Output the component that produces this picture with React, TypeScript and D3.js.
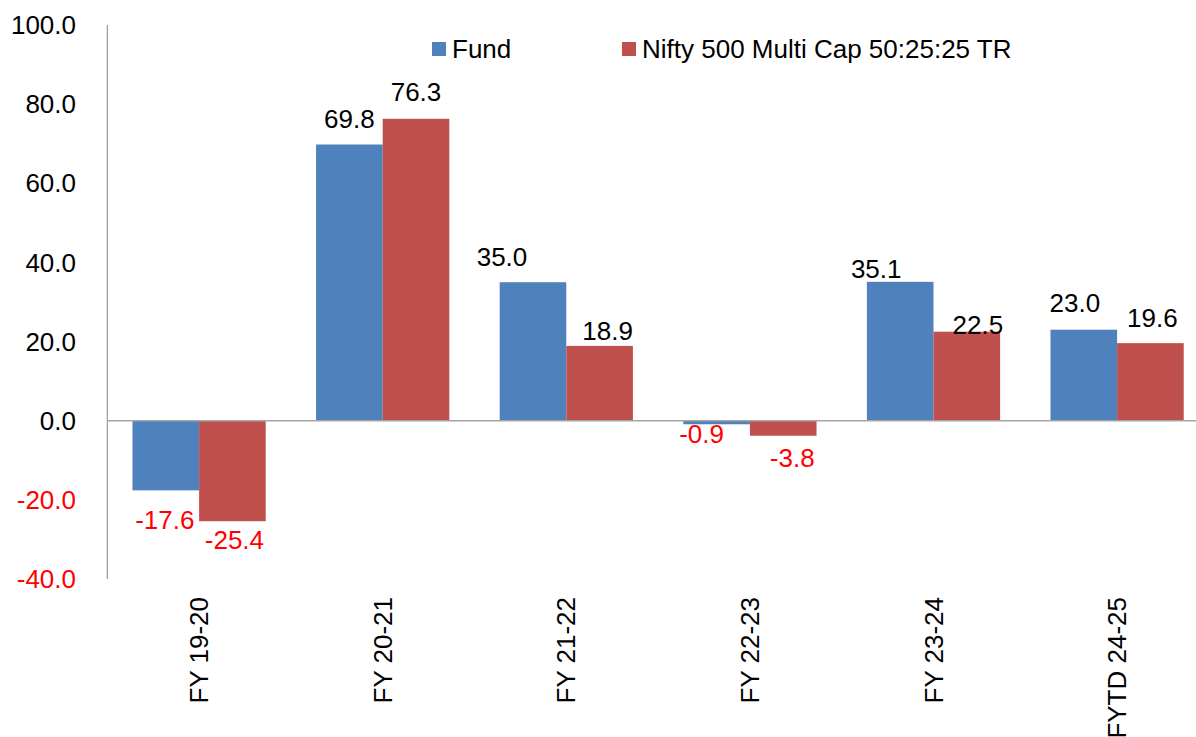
import React, { useEffect, useRef } from 'react';
import * as d3 from 'd3';

const categories = ['FY 19-20', 'FY 20-21', 'FY 21-22', 'FY 22-23', 'FY 23-24', 'FYTD 24-25'];
const seriesNames = ['Fund', 'Nifty 500 Multi Cap 50:25:25 TR'];
const fundValues = [-17.6, 69.8, 35.0, -0.9, 35.1, 23.0];
const niftyValues = [-25.4, 76.3, 18.9, -3.8, 22.5, 19.6];
const yTicks = [-40, -20, 0, 20, 40, 60, 80, 100];

// label nudges (dx, dy) from the bar centre / bar end, as placed in the original
const fundLabelNudge = [[-1, 30], [0, -26], [-31, -25], [-15, 10], [-24, -13], [-9, -27]];
const niftyLabelNudge = [[2, 19], [0, -27], [8, -15], [9, 22], [11, -7], [2, -25]];

const colors = ['#4F81BD', '#C0504D'];
const FONT = '"Liberation Sans", Arial, sans-serif';

const App = () => {
  const ref = useRef<SVGSVGElement | null>(null);

  useEffect(() => {
    const width = 1196;
    const height = 737;
    const left = 107.3;
    const step = 183.6;

    const svg = d3.select(ref.current);
    svg.selectAll('*').remove();

    const y = d3.scaleLinear().domain([-40, 100]).range([579, 25]);
    const x0 = d3.scaleBand().domain(categories).range([left, left + step * categories.length]).padding(0);
    const x1 = d3.scaleBand().domain(seriesNames).range([0, x0.bandwidth()]).paddingOuter(0.378).paddingInner(0);

    // y axis line
    svg.append('line')
      .attr('x1', left).attr('x2', left)
      .attr('y1', y(100)).attr('y2', y(-40))
      .attr('stroke', '#868686').attr('stroke-width', 1);

    // tick labels
    svg.selectAll('text.ytick')
      .data(yTicks)
      .enter()
      .append('text')
      .attr('class', 'ytick')
      .attr('x', 76)
      .attr('y', (d) => y(d))
      .attr('dy', '0.35em')
      .attr('text-anchor', 'end')
      .attr('font-family', FONT)
      .attr('font-size', 26)
      .attr('fill', (d) => (d < 0 ? '#FF0000' : '#000000'))
      .text((d) => d.toFixed(1));

    const series = [
      { name: seriesNames[0], values: fundValues, nudge: fundLabelNudge, color: colors[0] },
      { name: seriesNames[1], values: niftyValues, nudge: niftyLabelNudge, color: colors[1] },
    ];

    series.forEach((s) => {
      const g = svg.append('g');
      g.selectAll('rect')
        .data(s.values)
        .enter()
        .append('rect')
        .attr('x', (d, i) => (x0(categories[i]) as number) + (x1(s.name) as number))
        .attr('y', (d) => y(Math.max(0, d)))
        .attr('width', x1.bandwidth())
        .attr('height', (d) => Math.abs(y(d) - y(0)))
        .attr('fill', s.color);

      g.selectAll('text')
        .data(s.values)
        .enter()
        .append('text')
        .attr('x', (d, i) => (x0(categories[i]) as number) + (x1(s.name) as number) + x1.bandwidth() / 2 + s.nudge[i][0])
        .attr('y', (d, i) => y(d) + s.nudge[i][1])
        .attr('dy', '0.35em')
        .attr('text-anchor', 'middle')
        .attr('font-family', FONT)
        .attr('font-size', 26)
        .attr('fill', (d) => (d < 0 ? '#FF0000' : '#000000'))
        .text((d) => d.toFixed(1));
    });

    // zero line
    svg.append('line')
      .attr('x1', left).attr('x2', width)
      .attr('y1', y(0)).attr('y2', y(0))
      .attr('stroke', '#A6A6A6').attr('stroke-width', 1.5);

    // category labels
    svg.selectAll('text.cat')
      .data(categories)
      .enter()
      .append('text')
      .attr('class', 'cat')
      .attr('transform', (d) => `translate(${(x0(d) as number) + x0.bandwidth() / 2},597) rotate(-90)`)
      .attr('dy', '0.35em')
      .attr('text-anchor', 'end')
      .attr('font-family', FONT)
      .attr('font-size', 26)
      .attr('fill', '#000000')
      .text((d) => d);

    // legend
    const legendX = [432, 622];
    const legend = svg.append('g');
    seriesNames.forEach((name, i) => {
      legend.append('rect')
        .attr('x', legendX[i]).attr('y', 42)
        .attr('width', 14).attr('height', 14)
        .attr('fill', colors[i]);
      legend.append('text')
        .attr('x', legendX[i] + 20).attr('y', 49)
        .attr('dy', '0.35em')
        .attr('font-family', FONT)
        .attr('font-size', 26)
        .attr('fill', '#000000')
        .text(name);
    });
  }, []);

  return (
    <svg
      ref={ref}
      width={1196}
      height={737}
      style={{ position: 'absolute', left: 0, top: 0, background: '#ffffff' }}
    />
  );
};

export default App;
